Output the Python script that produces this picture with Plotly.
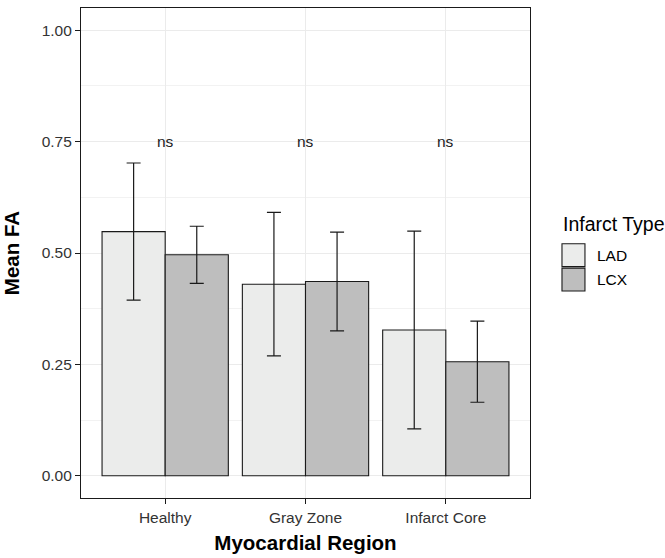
import plotly.graph_objects as go

regions = ["Healthy", "Gray Zone", "Infarct Core"]
infarct_types = ["LAD", "LCX"]
lad_mean = [0.548, 0.430, 0.327]
lad_err = [0.154, 0.161, 0.222]
lcx_mean = [0.496, 0.436, 0.256]
lcx_err = [0.064, 0.111, 0.091]
sig_labels = ["ns", "ns", "ns"]
y_ticks = [0.0, 0.25, 0.5, 0.75, 1.0]
y_tick_labels = ["0.00", "0.25", "0.50", "0.75", "1.00"]

colors = {"LAD": "#EBECEB", "LCX": "#BEBEBE"}
W, H = 665, 558
L, R, T, B = 80.7, 530.0, 6.3, 498.3
FONT = "Liberation Sans, Arial, Helvetica, sans-serif"

fig = go.Figure()
for name, means, errs in [("LAD", lad_mean, lad_err), ("LCX", lcx_mean, lcx_err)]:
    fig.add_trace(go.Bar(
        x=list(range(len(regions))), y=means, name=name,
        marker=dict(color=colors[name], line=dict(color="#1a1a1a", width=1.1)),
        error_y=dict(type="data", array=errs, visible=True, color="#1a1a1a",
                     thickness=1.2, width=7),
        showlegend=False,
    ))

for i, lab in enumerate(sig_labels):
    fig.add_annotation(x=i, y=0.75, text=lab, showarrow=False, xref="x", yref="y",
                       font=dict(family=FONT, size=15.5, color="#222222"))

def px(xp):
    return (xp - L) / (R - L)

def py(yp):
    return (B - yp) / (B - T)

# legend (manual for larger keys)
fig.add_annotation(x=px(561), y=py(223), xref="paper", yref="paper", text="Infarct Type",
                   showarrow=False, xanchor="left", yanchor="middle",
                   font=dict(family=FONT, size=19.5, color="#000000"))
key_tops = [243, 267.5]
for name, top in zip(infarct_types, key_tops):
    fig.add_shape(type="rect", xref="paper", yref="paper",
                  x0=px(562), x1=px(585), y0=py(top), y1=py(top + 23),
                  fillcolor=colors[name], line=dict(color="#1a1a1a", width=1.1))
    fig.add_annotation(x=px(595), y=py(top + 11.5), xref="paper", yref="paper", text=name,
                       showarrow=False, xanchor="left", yanchor="middle",
                       font=dict(family=FONT, size=15.5, color="#000000"))

fig.update_layout(
    width=W, height=H,
    margin=dict(l=L, r=W - R, t=T, b=H - B, pad=0),
    plot_bgcolor="white", paper_bgcolor="white",
    barmode="group", bargap=0.1, bargroupgap=0,
    font=dict(family=FONT, color="#333333"),
)
fig.update_xaxes(
    range=[-0.6, 2.6], tickvals=list(range(len(regions))), ticktext=regions,
    showgrid=True, gridcolor="#EBEBEB", gridwidth=1.1,
    showline=True, mirror=True, linecolor="#1a1a1a", linewidth=1.2,
    ticks="outside", ticklen=5, tickcolor="#1a1a1a", tickwidth=1.1,
    tickfont=dict(size=15.5, color="#333333", family=FONT),
    title=dict(text="<b>Myocardial Region</b>", font=dict(size=20.5, color="#000000", family=FONT), standoff=10),
    zeroline=False,
)
fig.update_yaxes(
    range=[-0.05, 1.05], tickvals=y_ticks, ticktext=y_tick_labels,
    showgrid=True, gridcolor="#EBEBEB", gridwidth=1.1,
    minor=dict(tickvals=[0.125, 0.375, 0.625, 0.875], showgrid=True, gridcolor="#F2F2F2", gridwidth=0.6, ticks=""),
    showline=True, mirror=True, linecolor="#1a1a1a", linewidth=1.2,
    ticks="outside", ticklen=5, tickcolor="#1a1a1a", tickwidth=1.1,
    tickfont=dict(size=15.5, color="#333333", family=FONT),
    title=dict(text="<b>Mean FA</b>", font=dict(size=20.5, color="#000000", family=FONT), standoff=16),
    zeroline=False,
)

fig.write_html("out.html")
